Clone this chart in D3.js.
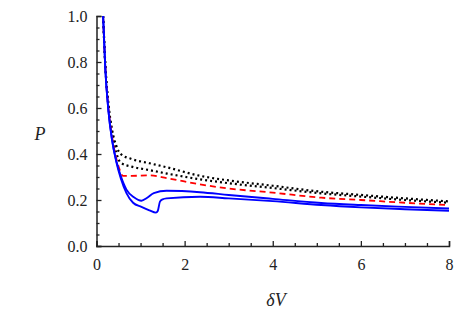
<!DOCTYPE html>
<html>
<head>
<meta charset="utf-8">
<script src="https://cdn.jsdelivr.net/npm/d3@7"></script>
<style>
	body { margin: 0; background: #fff; }
</style>
</head>
<body>
<div id="graphic"></div>
<script>
// Curves: [deltaV, P]
const blackUpper = [[0.15,1.0],[0.2,0.79],[0.27,0.62],[0.35,0.51],[0.45,0.435],[0.55,0.40],[0.8,0.378],[1.2,0.36],[1.6,0.342],[2.35,0.305],[3,0.285],[4,0.262],[5.1,0.236],[6,0.222],[7,0.207],[8,0.194]];
const blackLower = [[0.15,1.0],[0.2,0.785],[0.27,0.61],[0.35,0.495],[0.45,0.405],[0.55,0.362],[0.8,0.345],[1.2,0.33],[1.6,0.315],[2.35,0.29],[3,0.273],[4,0.252],[5.1,0.229],[6,0.215],[7,0.2],[8,0.188]];
const redDashed = [[0.15,1.0],[0.2,0.78],[0.27,0.6],[0.35,0.48],[0.45,0.38],[0.52,0.335],[0.6,0.305],[0.8,0.305],[1.2,0.307],[1.6,0.295],[2.35,0.268],[3,0.25],[4,0.232],[5.1,0.21],[6,0.2],[7,0.188],[8,0.178]];
const blueUpper = [[0.15,1.0],[0.2,0.77],[0.27,0.59],[0.35,0.465],[0.45,0.37],[0.55,0.305],[0.68,0.245],[0.85,0.212],[1.02,0.197],[1.15,0.21],[1.3,0.23],[1.59,0.24],[2.35,0.234],[3,0.222],[4,0.205],[5.1,0.187],[6,0.178],[7,0.17],[8,0.163]];
const blueLower = [[0.15,1.0],[0.2,0.77],[0.27,0.59],[0.35,0.465],[0.45,0.365],[0.55,0.295],[0.68,0.23],[0.83,0.188],[1.02,0.17],[1.2,0.155],[1.35,0.145],[1.39,0.152],[1.44,0.193],[1.5,0.203],[1.59,0.207],[2.35,0.214],[3,0.207],[4,0.195],[5.1,0.178],[6,0.168],[7,0.16],[8,0.153]];

const xTicks = [0, 2, 4, 6, 8];
const yTicks = [0.0, 0.2, 0.4, 0.6, 0.8, 1.0];

const series = [
	{ data: blackUpper, colour: '#000', dash: '2,3', width: 2.2 },
	{ data: blackLower, colour: '#000', dash: '2,3', width: 2.2 },
	{ data: redDashed, colour: '#ff0000', dash: '6,4', width: 1.8 },
	{ data: blueUpper, colour: '#0000ff', dash: null, width: 1.9 },
	{ data: blueLower, colour: '#0000ff', dash: null, width: 1.9 }
];

const serif = '"Liberation Serif", serif';

let margin = { top: 16, left: 96.5, right: 26, bottom: 76 };
let width = 475 - margin.left - margin.right;
let height = 322 - margin.top - margin.bottom;

const svgRoot = d3.select('#graphic').append('svg')
	.attr('width', 475)
	.attr('height', 322);

const svg = svgRoot.append('g')
	.attr('transform', `translate(${margin.left},${margin.top})`);

const x = d3.scaleLinear().domain([0, 8]).range([0, width]);
const y = d3.scaleLinear().domain([0, 1]).range([height, 0]);

// clip so nothing spills past the frame
svg.append('clipPath').attr('id', 'clip')
	.append('rect').attr('x', 0).attr('y', -2).attr('width', width + 2).attr('height', height + 2);

const line = d3.line()
	.x((d) => x(d[0]))
	.y((d) => y(d[1]))
	.curve(d3.curveMonotoneX);

series.forEach(function (s) {
	svg.append('path')
		.datum(s.data)
		.attr('clip-path', 'url(#clip)')
		.attr('fill', 'none')
		.attr('stroke', s.colour)
		.attr('stroke-width', s.width)
		.attr('stroke-dasharray', s.dash)
		.attr('d', line);
});

// minor ticks first, then major ticks with labels
const xMinor = d3.range(0, 8.01, 0.5).filter((v) => v % 2 !== 0);
const yMinor = d3.range(0, 1.001, 0.05).filter((v) => Math.abs(v * 5 - Math.round(v * 5)) > 0.01);

svg.append('g')
	.attr('transform', `translate(0,${height})`)
	.call(d3.axisTop(x).tickValues(xMinor).tickSize(3).tickFormat(''))
	.call((g) => g.select('.domain').remove());

svg.append('g')
	.call(d3.axisRight(y).tickValues(yMinor).tickSize(3).tickFormat(''))
	.call((g) => g.select('.domain').remove());

svg.append('g')
	.attr('class', 'x axis')
	.attr('transform', `translate(0,${height})`)
	.call(d3.axisTop(x).tickValues(xTicks).tickSize(5).tickFormat(d3.format('d')))
	.call((g) => g.selectAll('.tick text')
		.attr('y', 24)
		.attr('dy', 0));

svg.append('g')
	.attr('class', 'y axis')
	.call(d3.axisRight(y).tickValues(yTicks).tickSize(5).tickFormat(d3.format('.1f')))
	.call((g) => g.selectAll('.tick text')
		.attr('x', -9)
		.attr('text-anchor', 'end')
		.attr('dy', '0.34em'));

svgRoot.selectAll('g.axis')
	.attr('font-family', null)
	.attr('font-size', null);

svgRoot.selectAll('.tick text')
	.style('font-family', serif)
	.style('font-size', '16px')
	.style('fill', '#222');

svgRoot.selectAll('.tick line').attr('stroke', '#222').attr('stroke-width', 1.3);
svgRoot.selectAll('.domain').attr('stroke', '#222').attr('stroke-width', 1.5);

// axis titles
svgRoot.append('text')
	.attr('x', 40)
	.attr('y', 140)
	.attr('text-anchor', 'middle')
	.style('font-family', serif)
	.style('font-style', 'italic')
	.style('font-size', '18px')
	.style('fill', '#222')
	.text('P');

svgRoot.append('text')
	.attr('x', 276)
	.attr('y', 306)
	.attr('text-anchor', 'middle')
	.style('font-family', serif)
	.style('font-style', 'italic')
	.style('font-size', '18px')
	.style('fill', '#222')
	.text('δV');
</script>
</body>
</html>
